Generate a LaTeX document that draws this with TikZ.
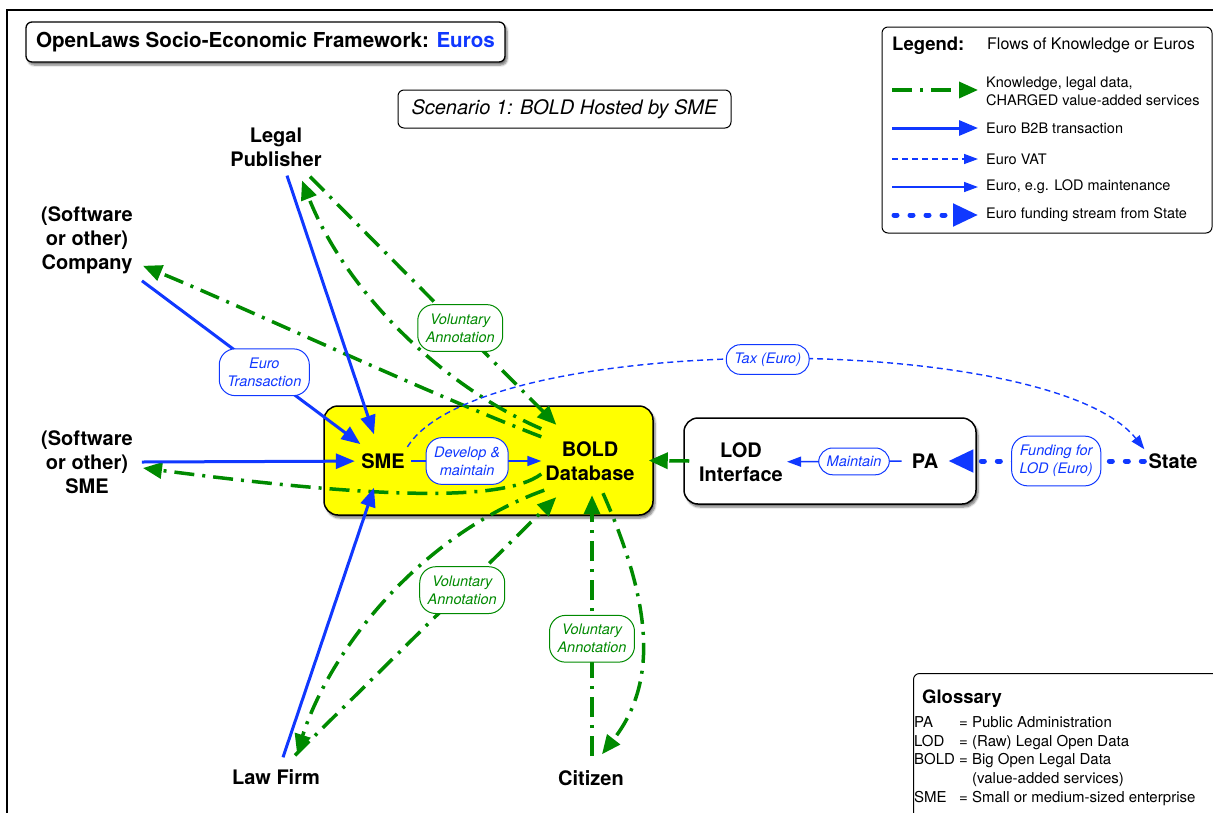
\documentclass[tikz,border=0pt]{standalone}
\usepackage{fontspec}
\setmainfont{TeX Gyre Heros}
\usetikzlibrary{arrows.meta,shadows.blur}
\definecolor{kgreen}{RGB}{0,138,0}
\definecolor{eblue}{RGB}{16,56,255}
\definecolor{byellow}{RGB}{255,255,0}
\begin{document}
\begin{tikzpicture}[x=1pt,y=-1pt,
  actor/.style={font=\fontsize{20}{24}\selectfont\bfseries, align=center, inner sep=4pt},
  lbl/.style={draw, solid, line width=1pt, line cap=butt, fill=white, rounded corners=16pt, font=\fontsize{14.5}{18}\selectfont\itshape, align=center, inner xsep=8pt, inner ysep=9pt},
  glbl/.style={lbl, draw=kgreen, text=kgreen},
  blbl/.style={lbl, draw=eblue, text=eblue},
  slbl/.style={inner ysep=8pt, rounded corners=14pt},
  know/.style={kgreen, line width=3.5pt, dash pattern=on 20pt off 8pt on 3pt off 8pt, -{Triangle[length=19pt,width=16pt]}},
  b2b/.style={eblue, line width=3pt, -{Triangle[length=19pt,width=15pt]}},
  vat/.style={eblue, line width=1.4pt, dash pattern=on 6pt off 4pt, -{Triangle[length=14pt,width=10pt]}},
  maint/.style={eblue, line width=1.5pt, -{Triangle[length=14pt,width=10pt]}},
  fund/.style={eblue, line width=5pt, line cap=round, dash pattern=on 3pt off 13pt, -{Triangle[length=25pt,width=22pt]}},
  box/.style={draw, line width=1.3pt, rounded corners=6pt},
  shad/.style={blur shadow={shadow xshift=2pt, shadow yshift=-3pt, shadow blur steps=6, shadow opacity=55}},
  legtxt/.style={font=\fontsize{14.5}{18}\selectfont, align=left, inner sep=0pt}
]
\useasboundingbox (0,0) rectangle (1213,812);
\begin{scope}
\clip (0,0) rectangle (1213,812);
\draw[line width=1.8pt] (7,10) rectangle (1240,840);
% glossary box (extends beyond the page)
\node[box, line width=1pt, anchor=north west, minimum width=330pt, minimum height=170pt] (gloss) at (913,673) {};
\end{scope}

% title and scenario
\node[box, fill=white, shad, minimum width=479pt, minimum height=40pt, font=\fontsize{20.6}{24}\selectfont\bfseries] (title) at (265.5,42) {OpenLaws Socio-Economic Framework: \textcolor{eblue}{Euros}};
\node[box, line width=1pt, minimum width=333pt, minimum height=38pt, font=\fontsize{20}{24}\selectfont\itshape] (scen) at (564.5,109) {Scenario 1: BOLD Hosted by SME};

% legend
\node[box, line width=1pt, minimum width=330pt, minimum height=206pt] (legend) at (1047,130) {};
\node[anchor=base west, inner sep=0pt, font=\fontsize{18.5}{22}\selectfont\bfseries] (legt) at (892,50) {Legend:};
\node[anchor=base west, inner sep=0pt, font=\fontsize{16}{19}\selectfont] (legs) at (987,49) {Flows of Knowledge or Euros};
\coordinate (l1a) at (892,90); \coordinate (l1b) at (978,90);
\coordinate (l2a) at (892,128); \coordinate (l2b) at (978,128);
\coordinate (l3a) at (892,159); \coordinate (l3b) at (978,159);
\coordinate (l4a) at (892,187); \coordinate (l4b) at (978,187);
\coordinate (l5a) at (894,215); \coordinate (l5b) at (978,215);
\draw[know] (l1a) -- (l1b);
\draw[b2b] (l2a) -- (l2b);
\draw[vat] (l3a) -- (l3b);
\draw[maint] (l4a) -- (l4b);
\draw[fund] (l5a) -- (l5b);
\node[legtxt, anchor=west] (lt1) at (986,91) {Knowledge, legal data,\\CHARGED value-added services};
\node[legtxt, anchor=west] (lt2) at (986,128) {Euro B2B transaction};
\node[legtxt, anchor=west] (lt3) at (986,159) {Euro VAT};
\node[legtxt, anchor=west] (lt4) at (986,187) {Euro, e.g. LOD maintenance};
\node[legtxt, anchor=west] (lt5) at (986,215) {Euro funding stream from State};

% glossary text
\node[anchor=base west, inner sep=0pt, font=\fontsize{18.5}{22}\selectfont\bfseries] (glt) at (922,703) {Glossary};
\node[anchor=north west, inner sep=0pt, font=\fontsize{15}{18.7}\selectfont] (glb) at (914,714) {%
\begin{tabular}{@{}p{41pt}@{\hspace{4pt}}l@{}}
PA & = Public Administration\\
LOD & = (Raw) Legal Open Data\\
BOLD & = Big Open Legal Data\\
 & \phantom{= }(value-added services)\\
SME & = Small or medium-sized enterprise
\end{tabular}};

% main boxes
\node[draw, line width=1.5pt, fill=byellow, rounded corners=14pt, minimum width=329pt, minimum height=109pt, shad] (core) at (488.5,460.5) {};
\node[draw, line width=1.5pt, fill=white, rounded corners=14pt, minimum width=292pt, minimum height=86pt, shad] (lodbox) at (830,461) {};

% actors
\node[actor, circle, minimum size=56pt, inner sep=0pt] (sme) at (383,461) {SME};
\node[actor, minimum width=96pt, minimum height=64pt] (bold) at (590,461) {BOLD\\Database};
\node[actor] (lod) at (741,462) {LOD\\Interface};
\node[actor, inner xsep=10pt] (pa) at (925,461) {PA};
\node[actor] (state) at (1173,461) {State};
\node[actor] (lp) at (276,147) {Legal\\Publisher};
\node[actor] (comp) at (87,240) {(Software\\or other)\\Company};
\node[actor] (smeo) at (87,462) {(Software\\or other)\\SME};
\node[actor] (lf) at (276,777) {Law Firm};
\node[actor] (cit) at (591,778) {Citizen};

% knowledge flows
\draw[know] ([yshift=-8pt]bold.north west) .. controls (420,390) and (250,310) .. ([xshift=6pt,yshift=12pt]comp.south east);
\draw[know] (bold.north west) .. controls (440,385) and (345,290) .. ([xshift=26pt,yshift=-10pt]lp.south);
\draw[know] ([xshift=34pt,yshift=-6pt]lp.south) -- node[glbl, pos=0.61] (va1) {Voluntary\\Annotation} ([xshift=15pt,yshift=4pt]bold.north west);
\draw[know] ([yshift=-13pt]bold.west) .. controls (500,505) and (350,495) .. ([xshift=6pt,yshift=-6pt]smeo.east);
\draw[know] ([xshift=3pt,yshift=3pt]bold.south west) .. controls (420,535) and (330,650) .. ([xshift=21pt,yshift=12pt]lf.north);
\draw[know] ([xshift=19pt,yshift=10pt]lf.north) -- node[glbl, pos=0.64] (va2) {Voluntary\\Annotation} ([xshift=15pt,yshift=-4pt]bold.south west);
\draw[know] ([xshift=1pt,yshift=10pt]cit.north) -- node[glbl, pos=0.45] (va3) {Voluntary\\Annotation} ([xshift=2pt,yshift=-2pt]bold.south);
\draw[know] ([xshift=13pt]bold.south) .. controls (650,600) and (660,680) .. ([xshift=11pt,yshift=12pt]cit.north);
\draw[know] ([xshift=6pt]lodbox.west) -- ([xshift=-5pt]core.east);

% euro flows
\draw[b2b] ([xshift=11pt,yshift=-5pt]lp.south) -- (sme);
\draw[b2b] ([xshift=5pt,yshift=-3pt]comp.south east) -- node[blbl, pos=0.56] (et) {Euro\\Transaction} (sme);
\draw[b2b] ([xshift=5pt]smeo.east) -- (sme);
\draw[b2b] ([xshift=7pt,yshift=8pt]lf.north) -- (sme);
\draw[maint] (sme) -- node[blbl, pos=0.43] (dev) {Develop \&\\maintain} (bold.west);
\draw[maint] (pa) -- node[blbl, slbl, pos=0.415] (mnt) {Maintain} (lod);
\draw[vat] (sme.30) .. controls (480,330) and (1050,330) .. node[blbl, slbl, pos=0.5] (tax) {Tax (Euro)} (state.north west);
\draw[fund] (state) -- node[blbl, pos=0.45] (fnd) {Funding for\\LOD (Euro)} (pa);
\end{tikzpicture}
\end{document}
